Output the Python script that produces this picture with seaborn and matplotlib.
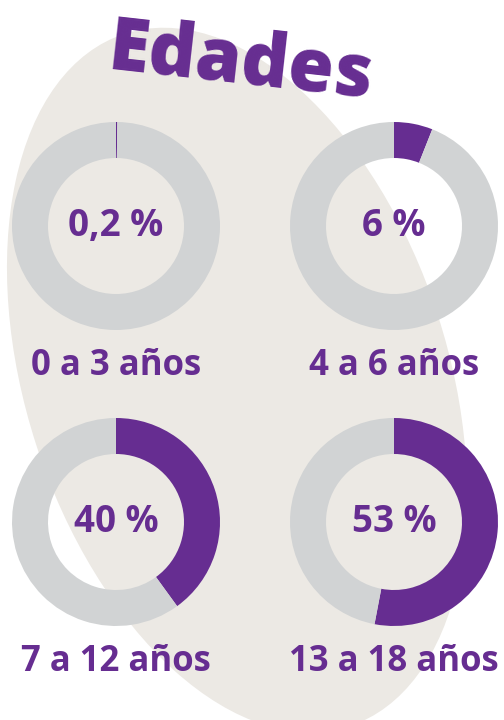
import matplotlib
matplotlib.use("Agg")
import matplotlib.pyplot as plt
from matplotlib.patches import Ellipse
import seaborn as sns

# ---- data ----
categories = ["0 a 3 años", "4 a 6 años", "7 a 12 años", "13 a 18 años"]
values = [0.2, 6, 40, 53]
pct_labels = ["0,2 %", "6 %", "40 %", "53 %"]
title = "Edades"

PURPLE = "#662D91"
GRAY = "#D1D3D4"
BEIGE = "#ECE9E4"

sns.set_theme(style="white")
plt.rcParams["font.family"] = ["Open Sans", "DejaVu Sans"]

W, H = 504, 720
fig = plt.figure(figsize=(W / 100, H / 100), dpi=100)
ax = fig.add_axes([0, 0, 1, 1])
ax.set_axis_off()

# background blob
ax.add_patch(Ellipse((237, 340), 422, 728, angle=18, facecolor=BEIGE,
                     edgecolor="none", zorder=0))

centers = [(116, 494), (394, 494), (116, 198), (394, 198)]
R, RW = 104, 36
for (cx, cy), v, lab, cat in zip(centers, values, pct_labels, categories):
    ax.pie([v, 100 - v], colors=[PURPLE, GRAY], startangle=90,
           counterclock=False, center=(cx, cy), radius=R,
           wedgeprops=dict(width=RW, edgecolor="none", linewidth=0),
           frame=True)
    ax.text(cx, cy, lab, ha="center", va="center", color=PURPLE,
            fontsize=26.5, fontweight="bold", zorder=5)
    ax.text(cx, cy - 149, cat, ha="center", va="baseline", color=PURPLE,
            fontsize=25, fontweight="bold", zorder=5)

ax.text(241, 656, title, ha="center", va="center", color=PURPLE,
        fontsize=53, fontweight="heavy", rotation=-6.4,
        rotation_mode="anchor", zorder=5)

ax.set_xlim(0, W)
ax.set_ylim(0, H)
ax.set_aspect("equal")
ax.set_axis_off()

fig.savefig("out.png", dpi=100, facecolor="white")
